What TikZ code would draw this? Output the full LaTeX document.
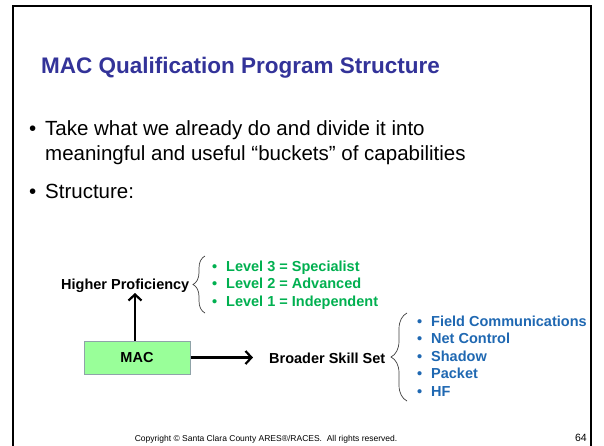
\documentclass[tikz,border=0pt]{standalone}
\usepackage{fontspec}
\setmainfont{Liberation Sans}
\usetikzlibrary{arrows.meta, decorations.pathreplacing}

\definecolor{titleblue}{HTML}{333399}
\definecolor{lvlgreen}{HTML}{00B050}
\definecolor{skillblue}{HTML}{1F68B2}
\definecolor{macfill}{HTML}{99FF99}
\definecolor{macline}{HTML}{8FA3A8}

\begin{document}
\begin{tikzpicture}[x=1pt, y=-1pt,
    txt/.style={inner sep=0pt, anchor=base west},
    lvl/.style={txt, text=lvlgreen, font=\fontsize{14.5}{16}\bfseries},
    skill/.style={txt, text=skillblue, font=\fontsize{14.5}{16}\bfseries},
    bigarrow/.style={line width=2.2pt, -{Straight Barb[length=6pt, width=13pt, line width=2.2pt]}},
    curly/.style={decorate, decoration={brace, amplitude=#1}, draw=black!75, line width=0.7pt}]
    \useasboundingbox (0, 0) rectangle (604, 445);
    \fill[white] (0, 0) rectangle (604, 445);
    \draw[line width=2pt] (13, 460) -- (13, 6) -- (591, 6) -- (591, 460);

    % title and bullets
    \node[txt, text=titleblue, font=\fontsize{22.5}{26}\bfseries] (title) at (41, 73) {MAC Qualification Program Structure};
    \node[txt, font=\fontsize{20.5}{24}\selectfont] (bulone) at (29, 135) {\makebox[16pt][l]{•}Take what we already do and divide it into};
    \node[txt, font=\fontsize{20.5}{24}\selectfont] (bulonb) at (45, 160) {meaningful and useful “buckets” of capabilities};
    \node[txt, font=\fontsize{20.5}{24}\selectfont] (bultwo) at (29, 198) {\makebox[16pt][l]{•}Structure:};

    % diagram
    \node[draw=macline, fill=macfill, line width=1pt, minimum width=106pt, minimum height=33pt,
        font=\fontsize{14.5}{16}\bfseries] (mac) at (137, 357.5) {MAC};
    \node[txt, font=\fontsize{14.5}{16}\bfseries] (higher) at (61, 289) {Higher Proficiency};
    \node[txt, font=\fontsize{14.5}{16}\bfseries] (broader) at (269, 363) {Broader Skill Set};

    \draw[bigarrow] (mac.north -| 135, 0) -- (135, 293);
    \draw[bigarrow] (mac.east) -- ([xshift=-16pt]broader.west |- mac.east);

    \draw[curly=12pt] (205, 313) -- (205, 256);
    \node[lvl] (lvlthree) at (212, 271) {\makebox[14pt][l]{•}Level 3 = Specialist};
    \node[lvl] (lvltwo) at (212, 288.5) {\makebox[14pt][l]{•}Level 2 = Advanced};
    \node[lvl] (lvlone) at (212, 306) {\makebox[14pt][l]{•}Level 1 = Independent};

    \draw[curly=16pt] (407, 401) -- (407, 313);
    \node[skill] (field) at (417, 326) {\makebox[14pt][l]{•}Field Communications};
    \node[skill] (net) at (417, 343.5) {\makebox[14pt][l]{•}Net Control};
    \node[skill] (shadow) at (417, 361) {\makebox[14pt][l]{•}Shadow};
    \node[skill] (packet) at (417, 378.5) {\makebox[14pt][l]{•}Packet};
    \node[skill] (hf) at (417, 396) {\makebox[14pt][l]{•}HF};

    % footer
    \node[txt, anchor=base, font=\fontsize{8.5}{10}\selectfont] (copy) at (266, 441) {Copyright © Santa Clara County ARES®/RACES.\ \ All rights reserved.};
    \node[txt, anchor=base east, font=\fontsize{10.5}{12}\selectfont] (page) at (587, 441) {64};
\end{tikzpicture}
\end{document}
